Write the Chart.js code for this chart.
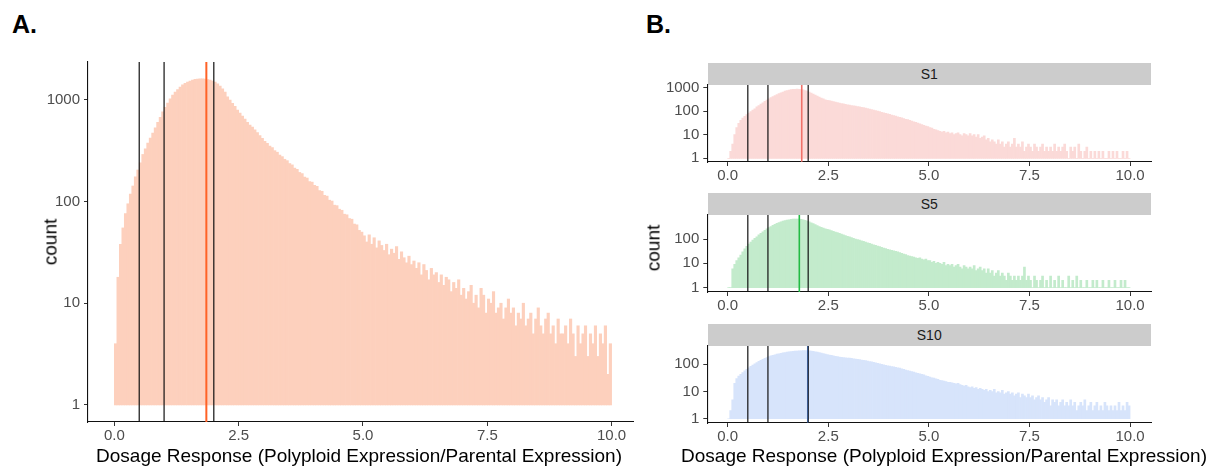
<!DOCTYPE html>
<html>
<head>
<meta charset="utf-8">
<script src="https://cdn.jsdelivr.net/npm/chart.js@4.4.1/dist/chart.umd.min.js"></script>
<style>
  body { margin: 0; background: #fff; font-family: "Liberation Sans", Arial, sans-serif; }
  #page { position: relative; width: 1212px; height: 468px; overflow: hidden; background: #fff; }
  canvas { position: absolute; }
  .tag { position: absolute; font-weight: bold; font-size: 25px; line-height: 25px; color: #000; }
  .title { position: absolute; font-size: 19px; line-height: 19px; color: #000; white-space: nowrap; }
  .strip { position: absolute; left: 707.5px; width: 443.5px; height: 22px; background: #cccccc;
           font-size: 14px; line-height: 22px; text-align: center; color: #1a1a1a; }
</style>
</head>
<body>
<div id="page">
  <div class="tag" style="left:12px;top:12px">A.</div>
  <div class="tag" style="left:646px;top:12px">B.</div>

  <canvas id="chartA" width="645" height="400" style="left:0;top:50px"></canvas>
  <div class="title" style="left:50px;top:242px;transform:translate(-50%,-50%) rotate(-90deg)">count</div>
  <div class="title" style="left:359px;top:446px;transform:translateX(-50%)">Dosage Response (Polyploid Expression/Parental Expression)</div>

  <div class="strip" style="top:63px">S1</div>
  <canvas id="chartS1" width="510" height="106" style="left:650px;top:80px"></canvas>
  <div class="strip" style="top:193px">S5</div>
  <canvas id="chartS5" width="510" height="106" style="left:650px;top:210px"></canvas>
  <div class="strip" style="top:324px">S10</div>
  <canvas id="chartS10" width="510" height="106" style="left:650px;top:341px"></canvas>
  <div class="title" style="left:653px;top:248px;transform:translate(-50%,-50%) rotate(-90deg)">count</div>
  <div class="title" style="left:944px;top:446px;transform:translateX(-50%)">Dosage Response (Polyploid Expression/Parental Expression)</div>
</div>

<script>
// histogram bins: 0.05 wide, from 0 to 10
const binWidth = 0.05;

// A: all samples
const countsAll = [
  4, 18, 38, 55, 76, 95, 118, 142, 175, 204, 240, 290, 330, 375, 420, 470, 530, 600, 670, 760,
  840, 930, 1020, 1110, 1190, 1260, 1330, 1400, 1450, 1490, 1530, 1560, 1585, 1600, 1610, 1605, 1595, 1580, 1560, 1530,
  1490, 1430, 1360, 1280, 1190, 1070, 990, 920, 860, 790, 740, 690, 645, 600, 565, 540, 505, 475, 445, 418,
  390, 372, 350, 338, 316, 305, 286, 276, 260, 252, 236, 229, 213, 207, 193, 188, 174, 170, 157, 155,
  144, 141, 128, 126, 115, 113, 103, 101, 92, 91, 84, 82, 75, 74, 68, 67, 60, 59, 52, 50,
  46, 40, 47, 38, 44, 35, 41, 37, 33, 38, 30, 34, 31, 36, 27, 32, 28, 25, 29, 24,
  26, 22, 25, 19, 24, 21, 17, 22, 19, 20, 16, 19, 15, 18, 17, 13, 16, 14, 17, 12,
  14, 11, 13, 15, 10, 12, 9, 14, 12, 8, 11, 10, 13, 8, 9, 10, 7, 9, 11, 8,
  9, 6, 8, 7, 10, 6, 7, 8, 5, 7, 9, 6, 5, 7, 8, 5, 6, 4, 7, 5,
  5, 6, 4, 7, 5, 3, 6, 4, 5, 6, 3, 5, 4, 6, 3, 5, 4, 6, 2, 4
];

// B: per sample
const countsS1 = [
  1, 2, 4, 10, 20, 30, 40, 50, 60, 70, 82, 95, 110, 125, 150, 170, 195, 220, 255, 290,
  330, 370, 410, 450, 490, 540, 590, 640, 690, 730, 770, 800, 820, 835, 840, 830, 810, 780, 740, 690,
  630, 580, 525, 475, 430, 390, 355, 325, 300, 285, 275, 262, 250, 238, 228, 218, 208, 200, 192, 184,
  178, 172, 166, 160, 155, 150, 145, 140, 133, 127, 121, 115, 110, 104, 99, 94, 89, 84, 80, 76,
  72, 68, 64, 61, 57, 54, 51, 48, 45, 43, 40, 38, 35, 33, 31, 29, 27, 25, 23, 22,
  20, 19, 17, 16, 15, 14, 13, 14, 12, 13, 11, 12, 10, 11, 12, 10, 9, 11, 10, 9,
  11, 9, 10, 8, 10, 7, 8, 9, 6, 7, 5, 6, 5, 4, 6, 4, 5, 3, 4, 5,
  3, 4, 7, 3, 4, 3, 5, 2, 3, 4, 3, 2, 4, 3, 2, 3, 4, 2, 3, 2,
  3, 2, 4, 2, 3, 2, 3, 4, 2, 1, 3, 2, 3, 1, 4, 2, 1, 2, 3, 1,
  2, 1, 2, 1, 2, 1, 2, 1, 1, 2, 1, 2, 1, 2, 1, 1, 2, 1, 2, 1
];
const countsS5 = [
  1, 1, 6, 9, 13, 17, 22, 30, 40, 50, 62, 75, 90, 107, 125, 148, 172, 200, 230, 262,
  295, 330, 365, 400, 440, 480, 515, 550, 580, 605, 625, 645, 660, 668, 670, 662, 645, 620, 590, 555,
  510, 470, 430, 395, 360, 330, 305, 285, 265, 250, 238, 224, 210, 196, 184, 172, 160, 150, 140, 131,
  123, 115, 108, 101, 95, 90, 85, 80, 75, 70, 66, 62, 58, 55, 52, 49, 46, 43, 41, 38,
  36, 34, 33, 31, 30, 28, 26, 24, 23, 21, 20, 19, 18, 17, 16, 17, 15, 14, 15, 13,
  13, 11, 12, 10, 11, 10, 9, 11, 8, 9, 8, 9, 7, 8, 9, 7, 6, 8, 7, 6,
  7, 6, 8, 5, 6, 7, 5, 6, 4, 6, 4, 5, 3, 4, 5, 3, 4, 3, 2, 4,
  3, 2, 3, 2, 3, 2, 3, 7, 2, 3, 2, 1, 3, 2, 1, 2, 3, 1, 2, 1,
  3, 1, 2, 1, 3, 1, 2, 1, 1, 3, 1, 2, 1, 3, 1, 2, 1, 1, 2, 1,
  1, 2, 1, 2, 1, 1, 2, 1, 1, 2, 1, 1, 2, 1, 1, 2, 1, 2, 1, 1
];
const countsS10 = [
  1, 2, 5, 20, 30, 37, 43, 50, 58, 66, 75, 84, 94, 104, 116, 128, 140, 152, 165, 178,
  192, 204, 215, 225, 235, 245, 255, 263, 272, 280, 288, 295, 300, 305, 309, 312, 314, 316, 316, 315,
  312, 305, 298, 290, 280, 270, 258, 248, 238, 228, 220, 212, 205, 198, 192, 186, 180, 175, 172, 170,
  168, 164, 160, 156, 152, 148, 144, 140, 136, 131, 127, 122, 118, 113, 109, 104, 100, 96, 92, 88,
  86, 83, 80, 78, 75, 72, 68, 65, 62, 59, 56, 54, 52, 49, 47, 45, 43, 41, 38, 36,
  34, 32, 31, 29, 28, 26, 25, 24, 23, 22, 22, 21, 20, 19, 20, 18, 17, 16, 17, 15,
  14, 15, 13, 14, 12, 13, 12, 11, 12, 10, 11, 10, 12, 9, 10, 9, 11, 8, 9, 10,
  8, 9, 7, 8, 9, 6, 8, 7, 6, 8, 6, 7, 5, 6, 7, 5, 6, 4, 5, 6,
  3, 5, 4, 5, 3, 4, 5, 3, 4, 3, 5, 3, 4, 2, 3, 4, 3, 5, 2, 3,
  4, 2, 3, 4, 2, 3, 2, 4, 3, 2, 3, 2, 3, 2, 4, 2, 3, 2, 4, 3
];

// reference lines (black) and mean lines (coloured)
const refLines = [0.5, 1, 2];
const meanAll = 1.85;
const meanS1 = 1.84;
const meanS5 = 1.78;
const meanS10 = 1.99;

const xTicks = [0, 2.5, 5, 7.5, 10];
const yTicks = [1, 10, 100, 1000];

Chart.defaults.font.family = '"Liberation Sans", Arial, sans-serif';

function vline(x, color, width, yMin, yMax) {
  return {
    type: 'line',
    data: [{x: x, y: yMin}, {x: x, y: yMax}],
    borderColor: color,
    borderWidth: width,
    pointRadius: 0,
    fill: false,
    order: 0
  };
}

function makeHist(id, counts, fill, meanX, meanColor, c) {
  const bars = counts.map((v, i) => ({x: binWidth * i + binWidth / 2, y: [1, v]}));
  const datasets = [{
    type: 'bar',
    data: bars,
    backgroundColor: fill,
    borderWidth: 0,
    barPercentage: 1,
    categoryPercentage: 1,
    order: 2
  }];
  refLines.forEach(x => datasets.push(vline(x, '#111111', 1.2, c.yMin, c.yMax)));
  datasets.push(vline(meanX, meanColor, c.meanWidth, c.yMin, c.yMax));

  return new Chart(document.getElementById(id), {
    type: 'bar',
    data: {datasets: datasets},
    options: {
      responsive: false,
      animation: false,
      events: [],
      devicePixelRatio: 1,
      layout: {padding: {top: c.padTop, right: c.padRight, left: 0, bottom: 0}},
      plugins: {legend: {display: false}, tooltip: {enabled: false}},
      scales: {
        x: {
          type: 'linear',
          offset: false,
          min: c.xMin,
          max: c.xMax,
          grid: {display: true, drawOnChartArea: false, drawTicks: true, tickLength: 4, color: '#333333', offset: false},
          border: {display: true, color: '#111111', width: 1.1},
          ticks: {color: '#4d4d4d', font: {size: 15}, padding: 1, maxRotation: 0,
                  callback: v => v.toFixed(1)},
          afterBuildTicks: s => { s.ticks = xTicks.map(v => ({value: v})); },
          afterFit: s => { s.height = c.xAxisHeight; s.paddingLeft = 0; s.paddingRight = 0; }
        },
        y: {
          type: 'logarithmic',
          min: c.yMin,
          max: c.yMax,
          grid: {display: true, drawOnChartArea: false, drawTicks: true, tickLength: 4, color: '#333333'},
          border: {display: true, color: '#111111', width: 1.1},
          ticks: {color: '#4d4d4d', font: {size: 15}, padding: 4, callback: v => String(v)},
          afterBuildTicks: s => { s.ticks = yTicks.filter(v => v <= c.yMax).map(v => ({value: v})); },
          afterFit: s => { s.width = c.yAxisWidth; s.paddingTop = 0; s.paddingBottom = 0; }
        }
      }
    }
  });
}

window.addEventListener('load', function () {
  makeHist('chartA', countsAll, '#fdd0bd', meanAll, '#ff6226', {
    yMin: 0.68, yMax: 2350, xMin: -0.53, xMax: 10.43,
    yAxisWidth: 88, xAxisHeight: 28, padTop: 12, padRight: 12, meanWidth: 2
  });
  const facet = {
    xMin: -0.507, xMax: 10.52, yAxisWidth: 57.3, xAxisHeight: 24, padTop: 5, padRight: 9, meanWidth: 1.6
  };
  makeHist('chartS1', countsS1, '#fbdad8', meanS1, '#f07068', Object.assign({yMin: 0.72, yMax: 1260}, facet));
  makeHist('chartS5', countsS5, '#c3ebcc', meanS5, '#22bb44', Object.assign({yMin: 0.66, yMax: 980}, facet));
  makeHist('chartS10', countsS10, '#d7e4fb', meanS10, '#5b95f5', Object.assign({yMin: 0.73, yMax: 470}, facet));
});
</script>
</body>
</html>
